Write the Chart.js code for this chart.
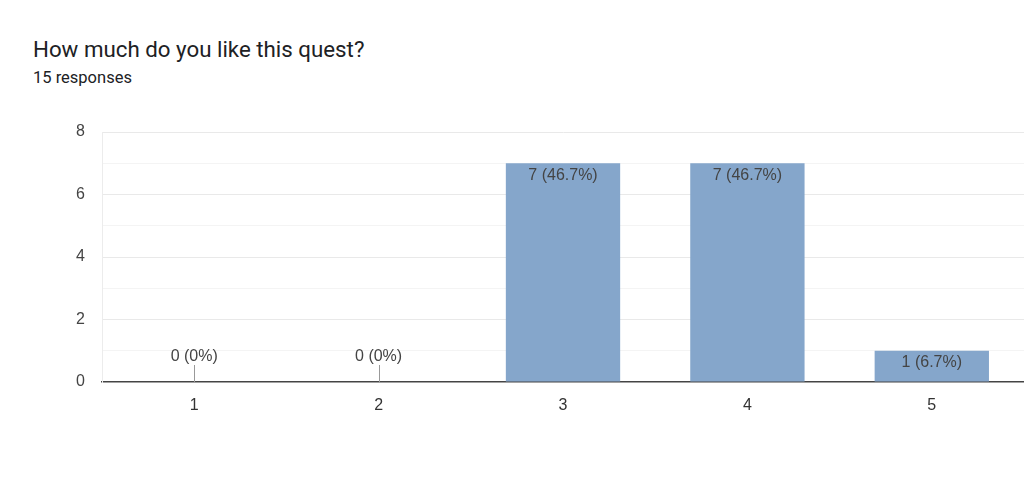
<!DOCTYPE html>
<html lang="en">
<head>
    <meta charset="UTF-8">
    <title>How much do you like this quest?</title>
    <style>
        body {
            margin: 0;
            width: 1024px;
            height: 486px;
            background: #ffffff;
            font-family: Roboto, sans-serif;
            overflow: hidden;
            position: relative;
        }

        .title {
            position: absolute;
            left: 33px;
            top: 36px;
            font-size: 22.3px;
            color: #202124;
        }

        .subtitle {
            position: absolute;
            left: 33px;
            top: 68px;
            font-size: 16.5px;
            color: #202124;
        }

        .chart-box {
            position: absolute;
            left: 0;
            top: 0;
            width: 1024px;
            height: 486px;
        }
    </style>
</head>
<body>
    <div class="title">How much do you like this quest?</div>
    <div class="subtitle">15 responses</div>
    <div class="chart-box"><canvas id="chart"></canvas></div>

    <script src="https://cdn.jsdelivr.net/npm/chart.js"></script>
    <script>
        const categories = ['1', '2', '3', '4', '5'];
        const counts = [0, 0, 7, 7, 1];
        const percentLabels = ['0%', '0%', '46.7%', '46.7%', '6.7%'];
        const yTicks = [0, 2, 4, 6, 8];

        const labelFont = '"Liberation Sans", Arial, sans-serif';

        // value labels inside bars, plus the small stub for empty bars
        const barLabels = {
            id: 'barLabels',
            afterDatasetsDraw(chart) {
                const ctx = chart.ctx;
                const meta = chart.getDatasetMeta(0);
                ctx.save();
                ctx.font = '16px ' + labelFont;
                ctx.fillStyle = '#444444';
                ctx.textAlign = 'center';
                ctx.textBaseline = 'middle';
                meta.data.forEach((bar, i) => {
                    const text = counts[i] + ' (' + percentLabels[i] + ')';
                    if (counts[i] > 0) {
                        ctx.fillText(text, bar.x, bar.y + 12);
                    } else {
                        ctx.strokeStyle = '#999999';
                        ctx.lineWidth = 1;
                        ctx.beginPath();
                        ctx.moveTo(Math.round(bar.x) + 0.5, bar.base);
                        ctx.lineTo(Math.round(bar.x) + 0.5, bar.base - 17);
                        ctx.stroke();
                        ctx.fillText(text, bar.x, bar.base - 25);
                    }
                });
                ctx.restore();
            }
        };

        new Chart(document.getElementById('chart'), {
            type: 'bar',
            data: {
                labels: categories,
                datasets: [{
                    data: counts,
                    backgroundColor: '#85a6cb',
                    categoryPercentage: 1,
                    barPercentage: 0.62
                }]
            },
            options: {
                responsive: true,
                maintainAspectRatio: false,
                animation: false,
                layout: {
                    padding: { top: 132, right: 0, bottom: 64, left: 0 }
                },
                plugins: {
                    legend: { display: false },
                    tooltip: { enabled: false }
                },
                scales: {
                    x: {
                        afterFit: s => { s.height = 40; },
                        grid: { display: false },
                        border: { color: '#444444', width: 1.5 },
                        ticks: {
                            color: '#333333',
                            font: { family: labelFont, size: 16 },
                            padding: 6
                        }
                    },
                    y: {
                        min: 0,
                        max: 8,
                        afterFit: s => { s.width = 102; },
                        border: { color: '#ececec', width: 1 },
                        grid: {
                            drawTicks: false,
                            color: c => c.tick.value === 0 ? 'rgba(0,0,0,0)'
                                : (yTicks.includes(c.tick.value) ? '#e9e9e9' : '#f4f4f4')
                        },
                        ticks: {
                            stepSize: 1,
                            color: '#444444',
                            font: { family: labelFont, size: 16 },
                            padding: 17,
                            callback: v => yTicks.includes(v) ? v : ''
                        }
                    }
                }
            },
            plugins: [barLabels]
        });
    </script>
</body>
</html>
